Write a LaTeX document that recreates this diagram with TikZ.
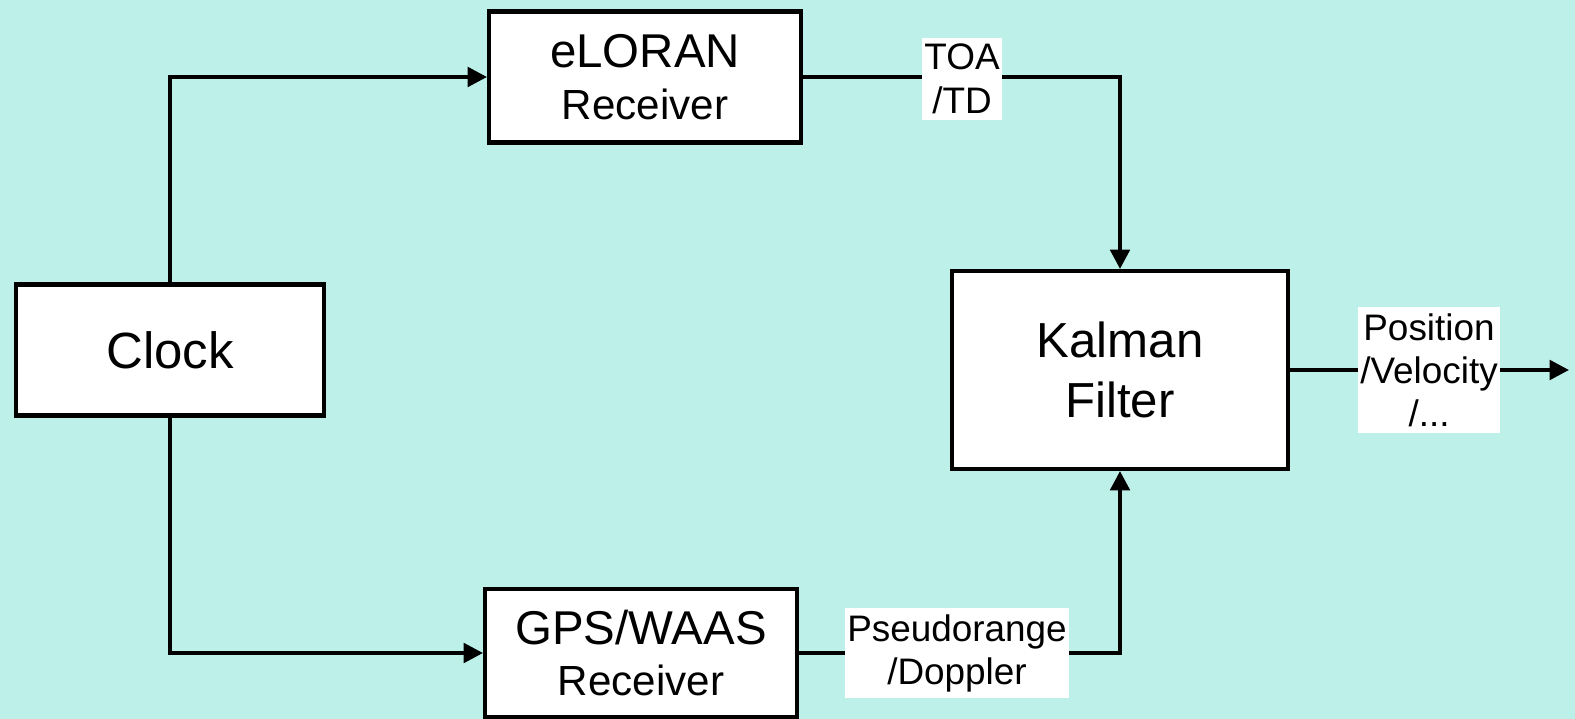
\documentclass[tikz,border=0pt]{standalone}
\usepackage{fontspec}
\setmainfont{Liberation Sans}
\usetikzlibrary{arrows.meta}
\definecolor{bgc}{RGB}{189,240,233}
\tikzset{
  blk/.style={draw=black, line width=2.3pt, fill=white, align=center, inner sep=0pt},
  lbl/.style={fill=white, align=center, inner xsep=1.5pt, inner ysep=3.5pt},
  conn/.style={line width=2.3pt, -{Triangle[length=11pt,width=11pt]}},
  plain/.style={line width=2.3pt}
}
\begin{document}
\begin{tikzpicture}[x=0.02cm, y=-0.02cm]
\fill[bgc] (0,0) rectangle (1575,719);
\useasboundingbox (0,0) rectangle (1575,719);
\node[blk, minimum width=6.18cm, minimum height=2.62cm, font=\fontsize{29}{34}\selectfont] (clk) at (170,350) {Clock};
\node[blk, minimum width=6.24cm, minimum height=2.62cm, font=\fontsize{24}{29.5}\selectfont] (elo) at (645,77) {{\fontsize{27}{29.5}\selectfont eLORAN}\\Receiver};
\node[blk, minimum width=6.24cm, minimum height=2.56cm, font=\fontsize{24}{29}\selectfont] (gps) at (641,653) {{\fontsize{27}{29}\selectfont GPS/WAAS}\\Receiver};
\node[blk, minimum width=6.72cm, minimum height=3.96cm, font=\fontsize{28}{34}\selectfont] (kal) at (1120,370) {Kalman\\Filter};
\coordinate (out) at (1569,370);
\draw[conn] (clk.north) |- (elo.west);
\draw[conn] (clk.south) |- (gps.west);
\draw[conn] (elo.east) -| (kal.north);
\draw[conn] (gps.east) -| (kal.south);
\draw[conn] (kal.east) -- (out);
\node[lbl, font=\fontsize{21}{25}\selectfont] (toa) at (962,79) {TOA\\/TD};
\node[lbl, font=\fontsize{21}{24.5}\selectfont] (psd) at (957,653) {Pseudorange\\/Doppler};
\node[lbl, font=\fontsize{21}{24.5}\selectfont] (pos) at (1429,370) {Position\\/Velocity\\/...};
\end{tikzpicture}
\end{document}
